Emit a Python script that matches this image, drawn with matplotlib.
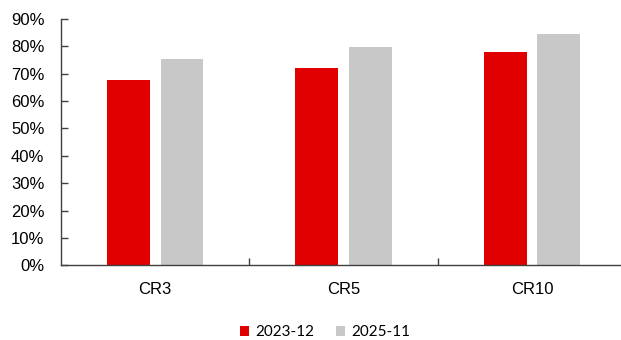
import numpy as np
import matplotlib.pyplot as plt
from matplotlib.ticker import FuncFormatter, FixedLocator

plt.rcParams['font.family'] = ['Liberation Sans', 'DejaVu Sans']

# Concentration ratios (share of top N), in percent
CATEGORIES = ['CR3', 'CR5', 'CR10']
SERIES_NAMES = ['2023-12', '2025-11']
VALUES_2023_12 = [67.5, 71.9, 77.8]
VALUES_2025_11 = [75.2, 79.6, 84.5]

COLORS = ['#E00000', '#C8C8C8']


def main():
    fig = plt.figure(figsize=(6.21, 3.40), dpi=100)
    ax = fig.add_axes([0.0982, 0.2197, 0.910, 0.7253])

    x = np.arange(len(CATEGORIES))
    width = 0.227
    offset = 0.142
    ax.bar(x - offset, VALUES_2023_12, width, color=COLORS[0], label=SERIES_NAMES[0])
    ax.bar(x + offset, VALUES_2025_11, width, color=COLORS[1], label=SERIES_NAMES[1])

    ax.set_xlim(-0.5, len(CATEGORIES) - 0.5)
    ax.set_ylim(0, 90)
    ax.set_yticks(np.arange(0, 91, 10))
    ax.yaxis.set_major_formatter(FuncFormatter(lambda v, _: f'{v:.0f}%'))

    ax.set_xticks(x)
    ax.set_xticklabels(CATEGORIES)
    ax.xaxis.set_minor_locator(FixedLocator(x[:-1] + 0.5))

    for side in ('top', 'right'):
        ax.spines[side].set_visible(False)
    for side in ('left', 'bottom'):
        ax.spines[side].set_color('#404040')
        ax.spines[side].set_linewidth(1.0)

    ax.tick_params(axis='y', direction='in', length=5, width=1, color='#404040',
                   labelsize=12, pad=12)
    ax.tick_params(axis='x', which='major', length=0, labelsize=12, pad=12)
    ax.tick_params(axis='x', which='minor', direction='in', length=5, width=1,
                   color='#404040')

    fig.legend(loc='center', bbox_to_anchor=(325 / 621, 1 - 332 / 340), ncol=2,
               frameon=False, prop={'family': ['Lato', 'DejaVu Sans'], 'size': 11},
               handlelength=0.63, handleheight=0.63, handletextpad=0.4,
               columnspacing=1.4)

    fig.savefig('out.png', dpi=100)


if __name__ == '__main__':
    main()
